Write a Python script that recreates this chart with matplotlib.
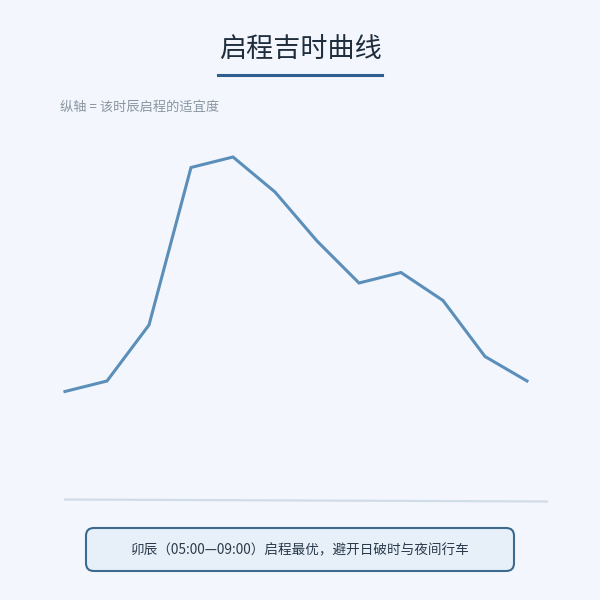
import matplotlib
matplotlib.use("Agg")
import matplotlib.pyplot as plt
from matplotlib.patches import FancyBboxPatch
from matplotlib.lines import Line2D

plt.rcParams['font.family'] = ['Noto Sans CJK SC', 'DejaVu Sans']

#%% Data
hours = ["子", "丑", "寅", "卯", "辰", "巳", "午", "未", "申", "酉", "戌", "亥"]
suitability = [31, 34, 50, 95, 98, 88, 74, 62, 65, 57, 41, 34]

title = "启程吉时曲线"
subtitle = "纵轴 = 该时辰启程的适宜度"
note = "卯辰（05:00—09:00）启程最优，避开日破时与夜间行车"

bg = "#f3f7fd"
line_color = "#5b8fba"

#%% Figure
W, H = 600, 600
fig = plt.figure(figsize=(6, 6), dpi=100, facecolor=bg)

def fx(px):
    return px / W

def fy(py):
    return 1 - py / H

# plot area: x 65..527 px, y 0 at 500 px, 100 at 150 px
ax = fig.add_axes([fx(65), fy(500), fx(527 - 65), (500 - 150) / H])
ax.set_facecolor("none")
ax.plot(range(len(hours)), suitability, color=line_color, lw=2.2,
        solid_joinstyle="miter", clip_on=False)
ax.set_xlim(0, len(hours) - 1)
ax.set_ylim(0, 100)
ax.axis("off")

# baseline
fig.add_artist(Line2D([fx(65), fx(547)], [fy(499.5), fy(501.5)],
                      color="#d0dce6", lw=1.6))

# title + underline
fig.text(0.5, fy(50), title, ha="center", va="center", fontsize=19.5,
         color="#1f2d3d")
fig.add_artist(Line2D([fx(218), fx(382)], [fy(75), fy(75)],
                      color="#2f5f8f", lw=2.2))

fig.text(fx(60), fy(107), subtitle, ha="left", va="center", fontsize=9.5,
         color="#8a95a0")

# note box
box = FancyBboxPatch((fx(86), fy(571)), fx(514 - 86), (571 - 528) / H,
                     boxstyle="round,pad=0,rounding_size=0.013",
                     transform=fig.transFigure, facecolor="#e7f0f9",
                     edgecolor="#3e6a8e", lw=1.5)
fig.add_artist(box)
fig.text(0.5, fy(550), note, ha="center", va="center", fontsize=9.8,
         color="#2a3a4a")

fig.savefig("out.png", dpi=100, facecolor=bg)
